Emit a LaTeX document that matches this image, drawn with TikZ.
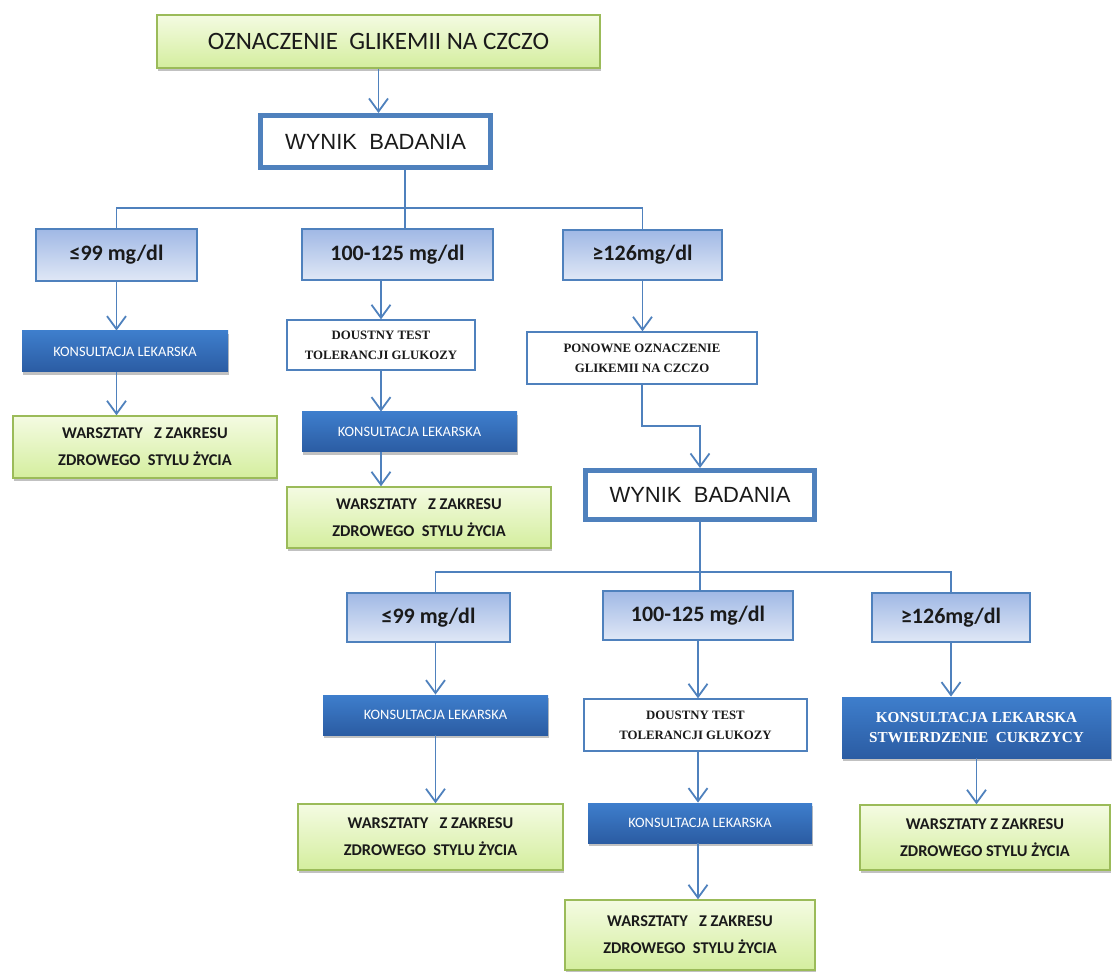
\documentclass[tikz,border=0pt]{standalone}
\usepackage{fontspec}
\setmainfont{Carlito}
\newfontfamily\arialfont{Liberation Sans}
\newfontfamily\timesfont{Liberation Serif}
\usepackage{tikz}
\usetikzlibrary{arrows.meta,shadows}

\definecolor{lineblue}{RGB}{79,129,189}
\definecolor{greentop}{RGB}{244,251,226}
\definecolor{greenbot}{RGB}{212,238,158}
\definecolor{greenline}{RGB}{155,187,89}
\definecolor{rangetop}{RGB}{160,184,229}
\definecolor{rangebot}{RGB}{224,232,246}
\definecolor{konstop}{RGB}{62,126,204}
\definecolor{konsbot}{RGB}{43,92,163}
\definecolor{inkdark}{RGB}{26,26,26}

\begin{document}
\begin{tikzpicture}[x=0.5pt,y=-0.5pt,
        >={Straight Barb[length=6.5pt,width=9.5pt]},
        link/.style={draw=lineblue,line width=0.9pt},
        boxshadow/.style={drop shadow={shadow xshift=0.4pt,shadow yshift=-1.6pt,opacity=0.35,fill=black!70}},
        greenbox/.style={draw=greenline,line width=0.7pt,top color=greentop,bottom color=greenbot,
          text=inkdark,align=center,inner sep=2pt,boxshadow},
        resultbox/.style={draw=lineblue,line width=2.5pt,fill=white,text=inkdark,
          font=\arialfont\fontsize{11}{13}\selectfont},
        rangebox/.style={draw=lineblue,line width=0.7pt,top color=rangetop,bottom color=rangebot,
          text=inkdark,font=\fontsize{11}{13}\selectfont\bfseries},
        konsbox/.style={draw=none,top color=konstop,bottom color=konsbot,text=white,
          align=center,font=\fontsize{7.2}{9}\selectfont,boxshadow},
        testbox/.style={draw=lineblue,line width=0.7pt,fill=white,text=inkdark,align=center,
          font=\timesfont\fontsize{6.4}{10}\selectfont\bfseries},
        warsbox/.style={greenbox,font=\fontsize{8.2}{13.5}\selectfont\bfseries}]

  \useasboundingbox (0,0) rectangle (1113,972);

  % first measurement
  \node[greenbox,minimum width=221.5pt,minimum height=26.5pt,font=\fontsize{12.5}{15}\selectfont]
    (start) at (378.5,41.5) {OZNACZENIE\ \ GLIKEMII NA CZCZO};
  \node[resultbox,minimum width=115pt,minimum height=26pt] (wynikA) at (375.5,141.5) {WYNIK\ \ BADANIA};

  \node[rangebox,minimum width=80.5pt,minimum height=26pt] (rangeA1) at (116.5,255) {≤99 mg/dl};
  \node[rangebox,minimum width=95.5pt,minimum height=25.5pt] (rangeA2) at (397.5,254.5) {100-125 mg/dl};
  \node[rangebox,minimum width=79.5pt,minimum height=25pt] (rangeA3) at (642.5,255) {≥126mg/dl};

  \node[konsbox,minimum width=103pt,minimum height=20.5pt] (konsA1) at (125,351.5) {KONSULTACJA LEKARSKA};
  \node[warsbox,minimum width=132pt,minimum height=31pt] (warsA1) at (145,447)
    {WARSZTATY\ \ \ Z ZAKRESU\\ZDROWEGO\ \ STYLU ŻYCIA};

  \node[testbox,minimum width=94pt,minimum height=25pt] (testA2) at (381,345)
    {DOUSTNY TEST\\TOLERANCJI GLUKOZY};
  \node[konsbox,minimum width=107.5pt,minimum height=20pt] (konsA2) at (409.5,432) {KONSULTACJA LEKARSKA};
  \node[warsbox,minimum width=132pt,minimum height=30.5pt] (warsA2) at (419,517.5)
    {WARSZTATY\ \ \ Z ZAKRESU\\ZDROWEGO\ \ STYLU ŻYCIA};

  \node[testbox,minimum width=115pt,minimum height=26pt] (ponowne) at (642,358)
    {PONOWNE OZNACZENIE\\GLIKEMII NA CZCZO};

  % second measurement
  \node[resultbox,minimum width=114.5pt,minimum height=24.5pt] (wynikB) at (700,495) {WYNIK\ \ BADANIA};

  \node[rangebox,minimum width=81.5pt,minimum height=24.5pt] (rangeB1) at (428.5,617.5) {≤99 mg/dl};
  \node[rangebox,minimum width=95pt,minimum height=24.5pt] (rangeB2) at (698,615.5) {100-125 mg/dl};
  \node[rangebox,minimum width=79pt,minimum height=24.5pt] (rangeB3) at (951,617.5) {≥126mg/dl};

  \node[konsbox,minimum width=112.5pt,minimum height=20pt] (konsB1) at (435.5,715) {KONSULTACJA LEKARSKA};
  \node[warsbox,minimum width=132.5pt,minimum height=33pt] (warsB1) at (430.5,837)
    {WARSZTATY\ \ \ Z ZAKRESU\\ZDROWEGO\ \ STYLU ŻYCIA};

  \node[testbox,minimum width=111.5pt,minimum height=26pt] (testB2) at (695.5,725)
    {DOUSTNY TEST\\TOLERANCJI GLUKOZY};
  \node[konsbox,minimum width=112pt,minimum height=20pt] (konsB2) at (700,823) {KONSULTACJA LEKARSKA};
  \node[warsbox,minimum width=125pt,minimum height=35pt] (warsB2) at (690,935)
    {WARSZTATY\ \ \ Z ZAKRESU\\ZDROWEGO\ \ STYLU ŻYCIA};

  \node[konsbox,minimum width=134.5pt,minimum height=30.5pt,
        font=\timesfont\fontsize{7.6}{10}\selectfont\bfseries] (konsB3) at (976.5,727.5)
    {KONSULTACJA LEKARSKA\\STWIERDZENIE\ \ CUKRZYCY};
  \node[warsbox,minimum width=125pt,minimum height=32.5pt] (warsB3) at (985,837.5)
    {WARSZTATY Z ZAKRESU\\ZDROWEGO STYLU ŻYCIA};

  % forks
  \coordinate (forkA) at (405,208);
  \coordinate (forkB) at (700,572);

  \draw[link,->] (start.south) -- (start.south |- wynikA.north);
  \draw[link] (forkA |- wynikA.south) -- (forkA);
  \draw[link] (rangeA1.north) |- (forkA) -| (rangeA3.north);
  \draw[link] (forkA) -- (forkA |- rangeA2.north);

  \draw[link,->] (rangeA1.south) -- (rangeA1.south |- konsA1.north);
  \draw[link,->] (rangeA1.south |- konsA1.south) -- (rangeA1.south |- warsA1.north);

  \draw[link,->] (testA2.north |- rangeA2.south) -- (testA2.north);
  \draw[link,->] (testA2.south) -- (testA2.south |- konsA2.north);
  \draw[link,->] (testA2.south |- konsA2.south) -- (testA2.south |- warsA2.north);

  \draw[link,->] (rangeA3.south) -- (rangeA3.south |- ponowne.north);
  \draw[link,->] (ponowne.south) -- ++(0,41) -| (wynikB.north);

  \draw[link] (wynikB.south) -- (forkB);
  \draw[link] (konsB1.north |- rangeB1.north) |- (forkB) -| (rangeB3.north);
  \draw[link] (forkB) -- (forkB |- rangeB2.north);

  \draw[link,->] (konsB1.north |- rangeB1.south) -- (konsB1.north);
  \draw[link,->] (konsB1.south) -- (konsB1.south |- warsB1.north);

  \draw[link,->] (rangeB2.south) -- (rangeB2.south |- testB2.north);
  \draw[link,->] (rangeB2.south |- testB2.south) -- (rangeB2.south |- konsB2.north);
  \draw[link,->] (rangeB2.south |- konsB2.south) -- (rangeB2.south |- warsB2.north);

  \draw[link,->] (rangeB3.south) -- (rangeB3.south |- konsB3.north);
  \draw[link,->] (konsB3.south) -- (konsB3.south |- warsB3.north);

\end{tikzpicture}
\end{document}
